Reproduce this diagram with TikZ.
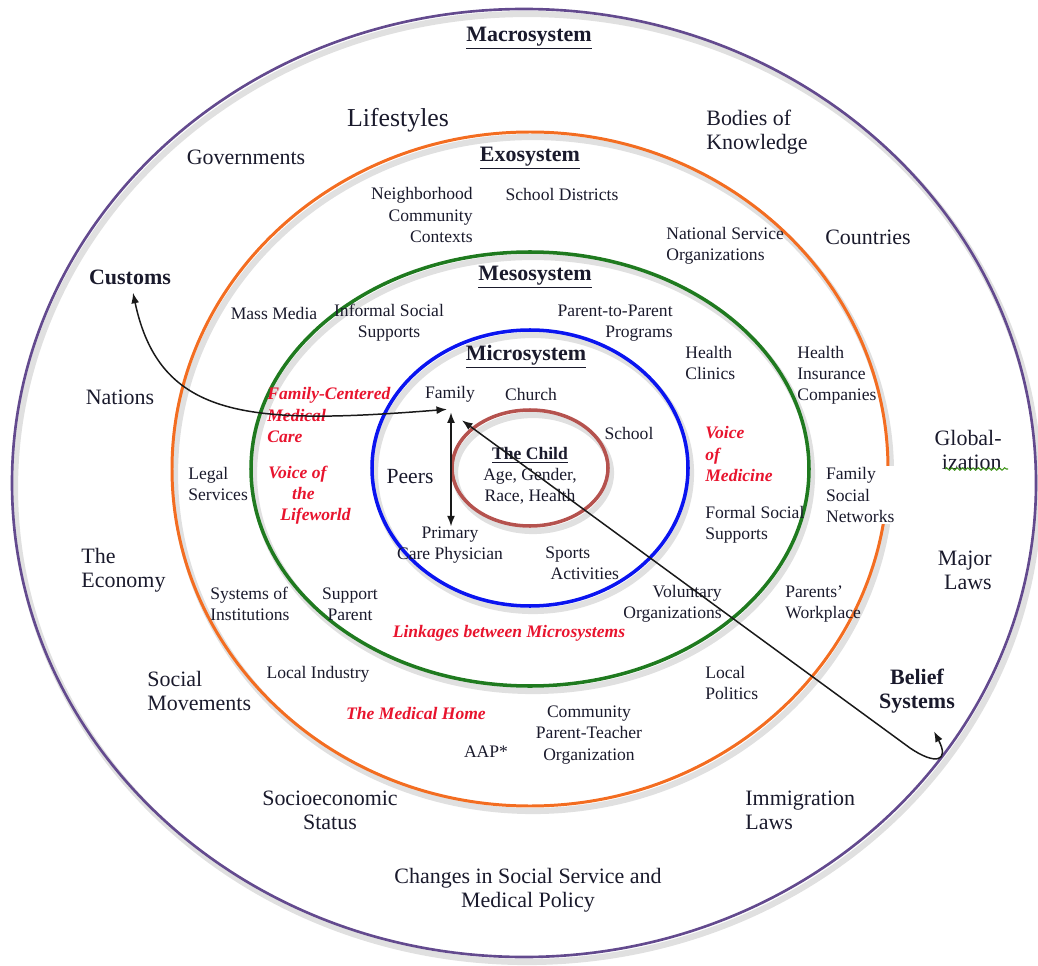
\documentclass[tikz,border=0pt]{standalone}
\usepackage{fontspec}
\setmainfont{Liberation Serif}
\usetikzlibrary{arrows.meta,decorations.pathmorphing}

\definecolor{macroc}{HTML}{634A8E}
\definecolor{exoc}{HTML}{F36D21}
\definecolor{mesoc}{HTML}{1F7A1F}
\definecolor{microc}{HTML}{0A14F0}
\definecolor{childc}{HTML}{B5524E}
\definecolor{inkc}{HTML}{1A1A2C}
\definecolor{voicec}{HTML}{E8142E}

\begin{document}
\begin{tikzpicture}[x=0.02cm,y=-0.02cm,
  every node/.style={inner sep=0pt, text=inkc},
  big/.style={font=\fontsize{12.5}{13.6}\selectfont, align=center},
  sm/.style={font=\fontsize{10}{12}\selectfont, align=center},
  title/.style={font=\fontsize{12.5}{13.6}\selectfont\bfseries, align=center},
  voice/.style={font=\fontsize{10}{12}\selectfont\bfseries\itshape, text=voicec},
  ringshadow/.style={line width=3.5pt, draw=black, opacity=0.12},
  link/.style={line width=0.85pt, draw=black!90,
    {Latex[length=6pt,width=4.5pt]}-{Latex[length=6pt,width=4.5pt]}}
]
\useasboundingbox (0,0) rectangle (1038,966);

% soft shadows under the rings
\foreach \cx/\cy/\rx/\ry in {524/483/512/474, 530/469/358/337, 530/469/279/217, 530/468/158/138, 530/468/78/58}
  \draw[ringshadow] (\cx+3,\cy+5) ellipse [x radius=\rx, y radius=\ry];

% the nested systems
\draw[line width=1.5pt, macroc] (524,483) ellipse [x radius=512, y radius=474];
\draw[line width=1.7pt, exoc]   (530,469) ellipse [x radius=358, y radius=337];
\draw[line width=2pt,   mesoc]  (530,469) ellipse [x radius=279, y radius=217];
\draw[line width=2pt,   microc] (530,468) ellipse [x radius=158, y radius=138];
\draw[line width=2pt,   childc] (530,468) ellipse [x radius=78,  y radius=58];

% macrosystem
\node[title] (macro) at (529,38) {\underline{Macrosystem}};
\node[font=\fontsize{14.7}{16}\selectfont] (life) at (398,120) {Lifestyles};
\node[big, align=left, anchor=west] (bodies) at (706,132) {Bodies of\\Knowledge};
\node[big] (gov) at (246,157) {Governments};
\node[big] (countries) at (868,237) {Countries};
\node[title] (customs) at (130,277) {Customs};
\node[big] (nations) at (120,397) {Nations};
\node[big, align=right, anchor=east] (glob) at (1002,450) {Global-\\ization};
\draw[mesoc!80!lime, line width=0.6pt, decorate,
  decoration={snake, amplitude=0.7pt, segment length=3pt}] (945,469) -- (1008,469);
\node[big, align=left, anchor=west] (economy) at (81,570) {The\\Economy};
\node[big, align=right, anchor=east] (laws) at (992,570) {Major\\Laws};
\node[big, align=left, anchor=west] (movements) at (147,691) {Social\\Movements};
\node[title] (belief) at (917,691) {Belief\\Systems};
\node[big] (ses) at (330,810) {Socioeconomic\\Status};
\node[big, align=left, anchor=west] (immig) at (745,810) {Immigration\\Laws};
\node[big] (changes) at (528,890) {Changes in Social Service and\\Medical Policy};

% exosystem
\node[title] (exo) at (530,158) {\underline{Exosystem}};
\node[sm, align=right, anchor=east] (neigh) at (473,215) {Neighborhood\\Community\\Contexts};
\node[sm] (districts) at (562,194) {School Districts};
\node[sm, align=left, anchor=west] (nso) at (666,246) {National Service\\Organizations};
\node[sm] (mass) at (274,313) {Mass Media};
\node[sm, align=left, anchor=west] (insur) at (797,375) {Health\\Insurance\\Companies};
\node[sm, align=left, anchor=west] (legal) at (188,484) {Legal\\Services};
\node[sm, align=left, anchor=west, fill=white, inner sep=1pt] (fsn) at (824,495) {Family\\Social\\Networks};
\node[sm, align=left, anchor=west] (sysinst) at (210,604) {Systems of\\Institutions};
\node[sm, align=left, anchor=west] (workplace) at (785,604) {Parents'\\Workplace};
\node[sm] (industry) at (318,674) {Local Industry};
\node[sm, align=left, anchor=west] (politics) at (705,683) {Local\\Politics};
\node[voice] (medhome) at (416,713) {The Medical Home};
\node[sm] (cpto) at (589,735) {Community\\Parent-Teacher\\Organization};
\node[sm] (aap) at (486,752) {AAP*};

% mesosystem
\node[title] (meso) at (535,277) {\underline{Mesosystem}};
\node[sm] (informal) at (389,323) {Informal Social\\Supports};
\node[sm, align=right, anchor=east] (p2p) at (673,323) {Parent-to-Parent\\Programs};
\node[sm, align=left, anchor=west] (clinics) at (685,363) {Health\\Clinics};
\node[voice, align=left, anchor=west] (fcmc) at (267,415) {Family-Centered\\Medical\\Care};
\node[voice, align=left, anchor=west] (vom) at (705,454) {Voice\\of\\Medicine};
\node[voice, align=left, anchor=west] (vol) at (268,495)
  {Voice of\\\hspace*{13.6pt}the\\\hspace*{6.8pt}Lifeworld};
\node[sm, align=left, anchor=west] (formal) at (705,525) {Formal Social\\Supports};
\node[sm] (support) at (350,604) {Support\\Parent};
\node[sm, align=right, anchor=east] (voluntary) at (722,604) {Voluntary\\Organizations};
\node[voice] (linkages) at (509,633) {Linkages between Microsystems};

% microsystem
\node[title] (micro) at (526,357) {\underline{Microsystem}};
\node[sm] (family) at (450,394) {Family};
\node[sm] (church) at (531,394) {Church};
\node[sm] (school) at (629,433) {School};
\node[font=\fontsize{12.3}{14}\selectfont] (peers) at (410,477) {Peers};
\node[sm] (primary) at (450,545) {Primary\\Care Physician};
\node[sm, align=left, anchor=west] (sports) at (545,563) {Sports\\\hspace*{3pt}Activities};

% the child
\node[sm] (child) at (530,476) {\textbf{\underline{The Child}}\\Age, Gender,\\Race, Health};

% links
\draw[link] ([shift={(-3,7)}]family.south) .. controls (250,425) and (160,420) .. ([shift={(3,8)}]customs.south);
\draw[link] ([shift={(1,10)}]family.south) -- ([shift={(1,0)}]primary.north);
\draw[link] ([shift={(12,18)}]family.south) -- (910,748)
  .. controls (935,765) and (950,762) .. ([shift={(17,18)}]belief.south);
\end{tikzpicture}
\end{document}
